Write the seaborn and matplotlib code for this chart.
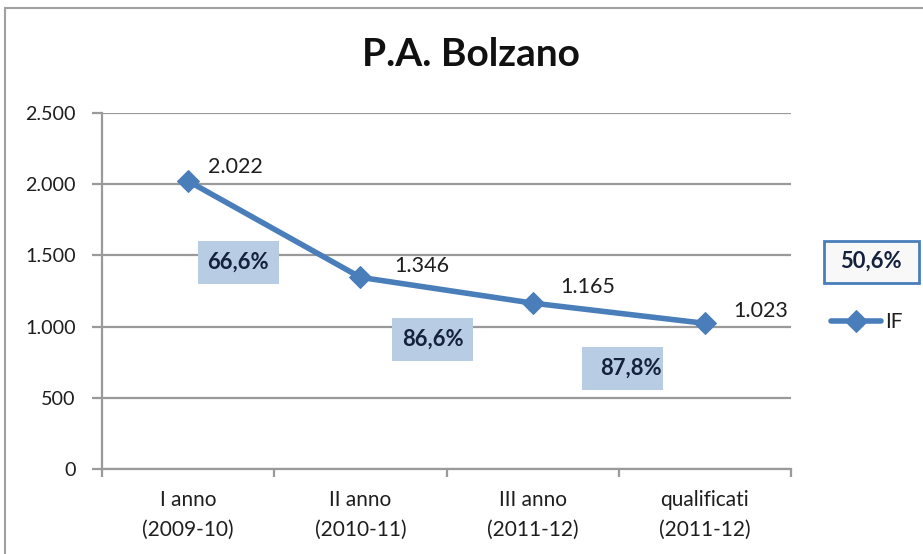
import matplotlib
matplotlib.use("Agg")
import matplotlib.pyplot as plt
import seaborn as sns
import pandas as pd
from matplotlib.patches import Rectangle
from matplotlib.ticker import FixedLocator, FuncFormatter

categories = ["I anno\n(2009-10)", "II anno\n(2010-11)", "III anno\n(2011-12)", "qualificati\n(2011-12)"]
values = [2022, 1346, 1165, 1023]
value_labels = ["2.022", "1.346", "1.165", "1.023"]
rate_labels = ["66,6%", "86,6%", "87,8%"]
total_label = "50,6%"
series_name = "IF"
title = "P.A. Bolzano"
y_ticks = [0, 500, 1000, 1500, 2000, 2500]

sns.set_theme(style="white")
plt.rcParams["font.family"] = ["Lato", "DejaVu Sans"]

W, H = 923, 554
fig = plt.figure(figsize=(W / 100, H / 100), dpi=100)
L, R, T, B = 102, 791, 113, 469
ax = fig.add_axes([L / W, 1 - B / H, (R - L) / W, (B - T) / H])

df = pd.DataFrame({"idx": range(len(values)), "val": values})
line_color = "#4a7ebb"
sns.lineplot(data=df, x="idx", y="val", ax=ax, color=line_color, linewidth=4,
             marker="D", markersize=11, markeredgecolor=line_color, label=series_name)

ax.set_xlim(-0.5, len(values) - 0.5)
ax.set_ylim(0, 2500)
ax.set_xlabel("")
ax.set_ylabel("")

grid_c = "#9a9a9a"
txt_c = "#1e1e1e"
ax.yaxis.set_major_locator(FixedLocator(y_ticks))
ax.yaxis.set_major_formatter(FuncFormatter(lambda v, p: f"{int(v):,}".replace(",", ".")))
ax.grid(axis="y", color=grid_c, linewidth=1.6)
ax.set_axisbelow(True)

ax.set_xticks(range(len(categories)))
ax.set_xticklabels(categories, fontsize=15, color=txt_c, linespacing=1.65)
ax.set_xticks([i - 0.5 for i in range(len(categories) + 1)], minor=True)
ax.tick_params(axis="x", which="major", length=0, pad=15)
ax.tick_params(axis="x", which="minor", length=6, width=1.6, color=grid_c, direction="out")
ax.tick_params(axis="y", length=7, width=1.6, color=grid_c, direction="out",
               labelsize=14.2, labelcolor=txt_c, pad=12)
ax.tick_params(left=True, bottom=True, which="both")

for s in ["top", "right"]:
    ax.spines[s].set_visible(False)
for s in ["left", "bottom"]:
    ax.spines[s].set_color(grid_c)
    ax.spines[s].set_linewidth(1.6)

offsets = [(20, 14), (34, 11), (28, 16), (28, 12)]
for i, (v, lab) in enumerate(zip(values, value_labels)):
    ax.annotate(lab, (i, v), xytext=offsets[i], textcoords="offset pixels",
                ha="left", va="center", fontsize=15.5, color=txt_c)

box_c = "#b8cce4"
box_pos = [(0.198, 0.580), (0.480, 0.364), (0.755, 0.282)]
text_shift = [0.0, 0.0, 0.012]
bw, bh = 81 / (R - L), 43 / (B - T)
for (cx, cy), dx, lab in zip(box_pos, text_shift, rate_labels):
    ax.add_patch(Rectangle((cx - bw / 2, cy - bh / 2), bw, bh, transform=ax.transAxes,
                           facecolor=box_c, edgecolor="none", zorder=1, clip_on=False))
    ax.text(cx + dx, cy, lab, transform=ax.transAxes, ha="center", va="center",
            fontsize=15.8, fontweight="bold", color="#14213d", zorder=2)

# total box
tx, ty = 871 / W, 1 - 261.5 / H
tw, th = 95 / W, 42 / H
fig.patches.append(Rectangle((tx - tw / 2, ty - th / 2), tw, th, transform=fig.transFigure,
                             facecolor="#f8f8f8", edgecolor=line_color, linewidth=2, zorder=1))
fig.text(tx, ty, total_label, ha="center", va="center", fontsize=15.8, fontweight="bold",
         color="#14213d", zorder=2)

fig.text(471 / W, 1 - 55 / H, title, ha="center", va="center", fontsize=28,
         fontweight="bold", color="#111111")

leg = ax.legend(loc="center left", bbox_to_anchor=(831 / W, 1 - 322 / H),
                bbox_transform=fig.transFigure, frameon=False, fontsize=15,
                handlelength=2.4, handletextpad=0.2, borderaxespad=0, borderpad=0)
for t in leg.get_texts():
    t.set_color(txt_c)

fig.patches.append(Rectangle((5 / W, -0.1), 1.2, 1.1 - 8 / H, transform=fig.transFigure,
                             facecolor="none", edgecolor="#a0a0a0", linewidth=1.5))

fig.savefig("out.png", dpi=100)
